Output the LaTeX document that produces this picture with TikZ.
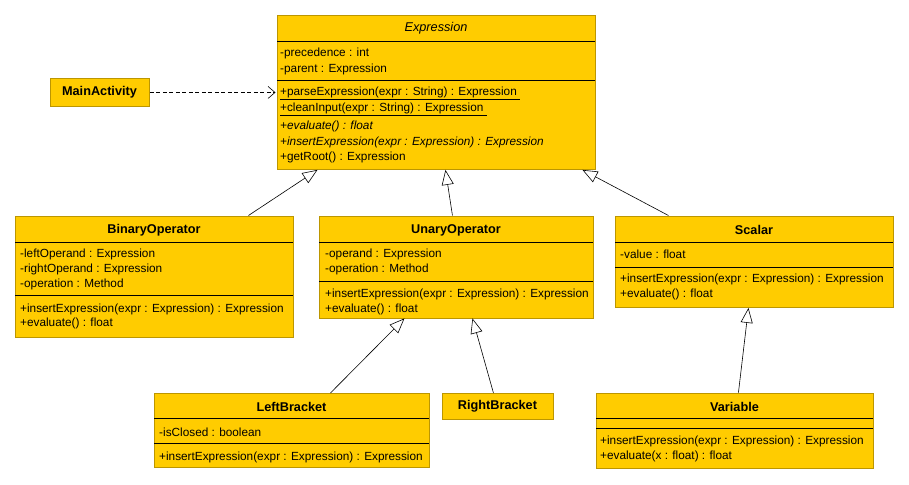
\documentclass[tikz,border=0pt]{standalone}
\usepackage{fontspec}
\setmainfont{Liberation Sans}
\usetikzlibrary{arrows.meta}
\definecolor{clsfill}{HTML}{FFCC00}
\definecolor{clsedge}{HTML}{BC9600}
\tikzset{
  cls/.style={draw=clsedge, fill=clsfill, line width=0.9pt, inner sep=0pt, anchor=north west},
  sep/.style={draw=black, line width=0.8pt},
  txt/.style={anchor=west, inner sep=0pt, font=\fontsize{11.8}{13}\selectfont},
  ttl/.style={anchor=center, inner sep=0pt, font=\fontsize{12.7}{14}\selectfont\bfseries},
  gen/.style={draw=black, line width=0.6pt, -{Triangle[open, length=15pt, width=12pt, fill=white]}},
  dep/.style={draw=black, line width=0.6pt, dash pattern=on 4pt off 2.5pt, -{Straight Barb[length=7pt, width=12pt]}}
}
\begin{document}
\begin{tikzpicture}[x=1pt,y=-1pt]
\useasboundingbox (0,0) rectangle (909,484);
% Expression
\node[cls, minimum width=318pt, minimum height=154pt] (expr) at (277,15) {};
\draw[sep] (277,41) -- (595,41);
\draw[sep] (277,80) -- (595,80);
\node[ttl, font=\fontsize{12.7}{14}\selectfont\itshape] (exprt) at (436,28.5) {Expression};
\node[txt] (e1) at (280,53.8) {-precedence : int};
\node[txt] (e2) at (280,69.5) {-parent : Expression};
\node[txt] (e3) at (280,93.8) {\underline{+parseExpression(expr : String) : Expression\ }};
\node[txt] (e4) at (280,109.8) {\underline{+cleanInput(expr : String) : Expression\ }};
\node[txt] (e5) at (280,126.2) {\itshape +evaluate() : float};
\node[txt] (e6) at (280,142.2) {\itshape +insertExpression(expr : Expression) : Expression};
\node[txt] (e7) at (280,157.2) {+getRoot() : Expression};
% MainActivity
\node[cls, minimum width=99pt, minimum height=28pt] (main) at (50,78) {};
\node[ttl] (maint) at (99.5,92.3) {MainActivity};
% BinaryOperator
\node[cls, minimum width=278pt, minimum height=121pt] (bin) at (15,215.5) {};
\draw[sep] (15,242) -- (293,242);
\draw[sep] (15,295) -- (293,295);
\node[ttl] (bint) at (154,230) {BinaryOperator};
\node[txt] (b1) at (20,254) {-leftOperand : Expression};
\node[txt] (b2) at (20,269.5) {-rightOperand : Expression};
\node[txt] (b3) at (20,284) {-operation : Method};
\node[txt] (b4) at (20,309.5) {+insertExpression(expr : Expression) : Expression};
\node[txt] (b5) at (20,323) {+evaluate() : float};
% UnaryOperator
\node[cls, minimum width=274pt, minimum height=102pt] (una) at (319,215.5) {};
\draw[sep] (319,242) -- (593,242);
\draw[sep] (319,281) -- (593,281);
\node[ttl] (unat) at (456,230) {UnaryOperator};
\node[txt] (u1) at (325,254) {-operand : Expression};
\node[txt] (u2) at (325,269.5) {-operation : Method};
\node[txt] (u3) at (325,294.5) {+insertExpression(expr : Expression) : Expression};
\node[txt] (u4) at (325,309.5) {+evaluate() : float};
% Scalar
\node[cls, minimum width=278pt, minimum height=91.5pt] (sca) at (615,215.5) {};
\draw[sep] (615,242) -- (893,242);
\draw[sep] (615,267) -- (893,267);
\node[ttl] (scat) at (754,230) {Scalar};
\node[txt] (s1) at (620,254) {-value : float};
\node[txt] (s2) at (620,279.5) {+insertExpression(expr : Expression) : Expression};
\node[txt] (s3) at (620,294) {+evaluate() : float};
% LeftBracket
\node[cls, minimum width=275pt, minimum height=74pt] (lb) at (154,393) {};
\draw[sep] (154,418.5) -- (429,418.5);
\draw[sep] (154,443.5) -- (429,443.5);
\node[ttl] (lbt) at (291.5,406.7) {LeftBracket};
\node[txt] (l1) at (159,432.2) {-isClosed : boolean};
\node[txt] (l2) at (159,457.5) {+insertExpression(expr : Expression) : Expression};
% RightBracket
\node[cls, minimum width=111pt, minimum height=26pt] (rb) at (442,393) {};
\node[ttl] (rbt) at (497.5,406.7) {RightBracket};
% Variable
\node[cls, minimum width=277pt, minimum height=75pt] (var) at (596,392.5) {};
\draw[sep] (596,418.5) -- (873,418.5);
\draw[sep] (596,428.5) -- (873,428.5);
\node[ttl] (vart) at (734.5,406.7) {Variable};
\node[txt] (v1) at (600,441.5) {+insertExpression(expr : Expression) : Expression};
\node[txt] (v2) at (600,456.5) {+evaluate(x : float) : float};
% connectors
\draw[dep] (main.east) -- ([xshift=-1.5pt]expr.west |- main.east);
\draw[gen] ([xshift=94pt]bin.north) -- ([xshift=-119pt]expr.south);
\draw[gen] ([xshift=-4pt]una.north) -- ([xshift=9pt]expr.south);
\draw[gen] ([xshift=-86pt]sca.north) -- ([xshift=146pt]expr.south);
\draw[gen] ([xshift=38.5pt]lb.north) -- ([xshift=-52pt]una.south);
\draw[gen] ([xshift=-4.5pt]rb.north) -- ([xshift=16pt]una.south);
\draw[gen] ([xshift=3.5pt]var.north) -- ([xshift=-6pt]sca.south);
\end{tikzpicture}
\end{document}
